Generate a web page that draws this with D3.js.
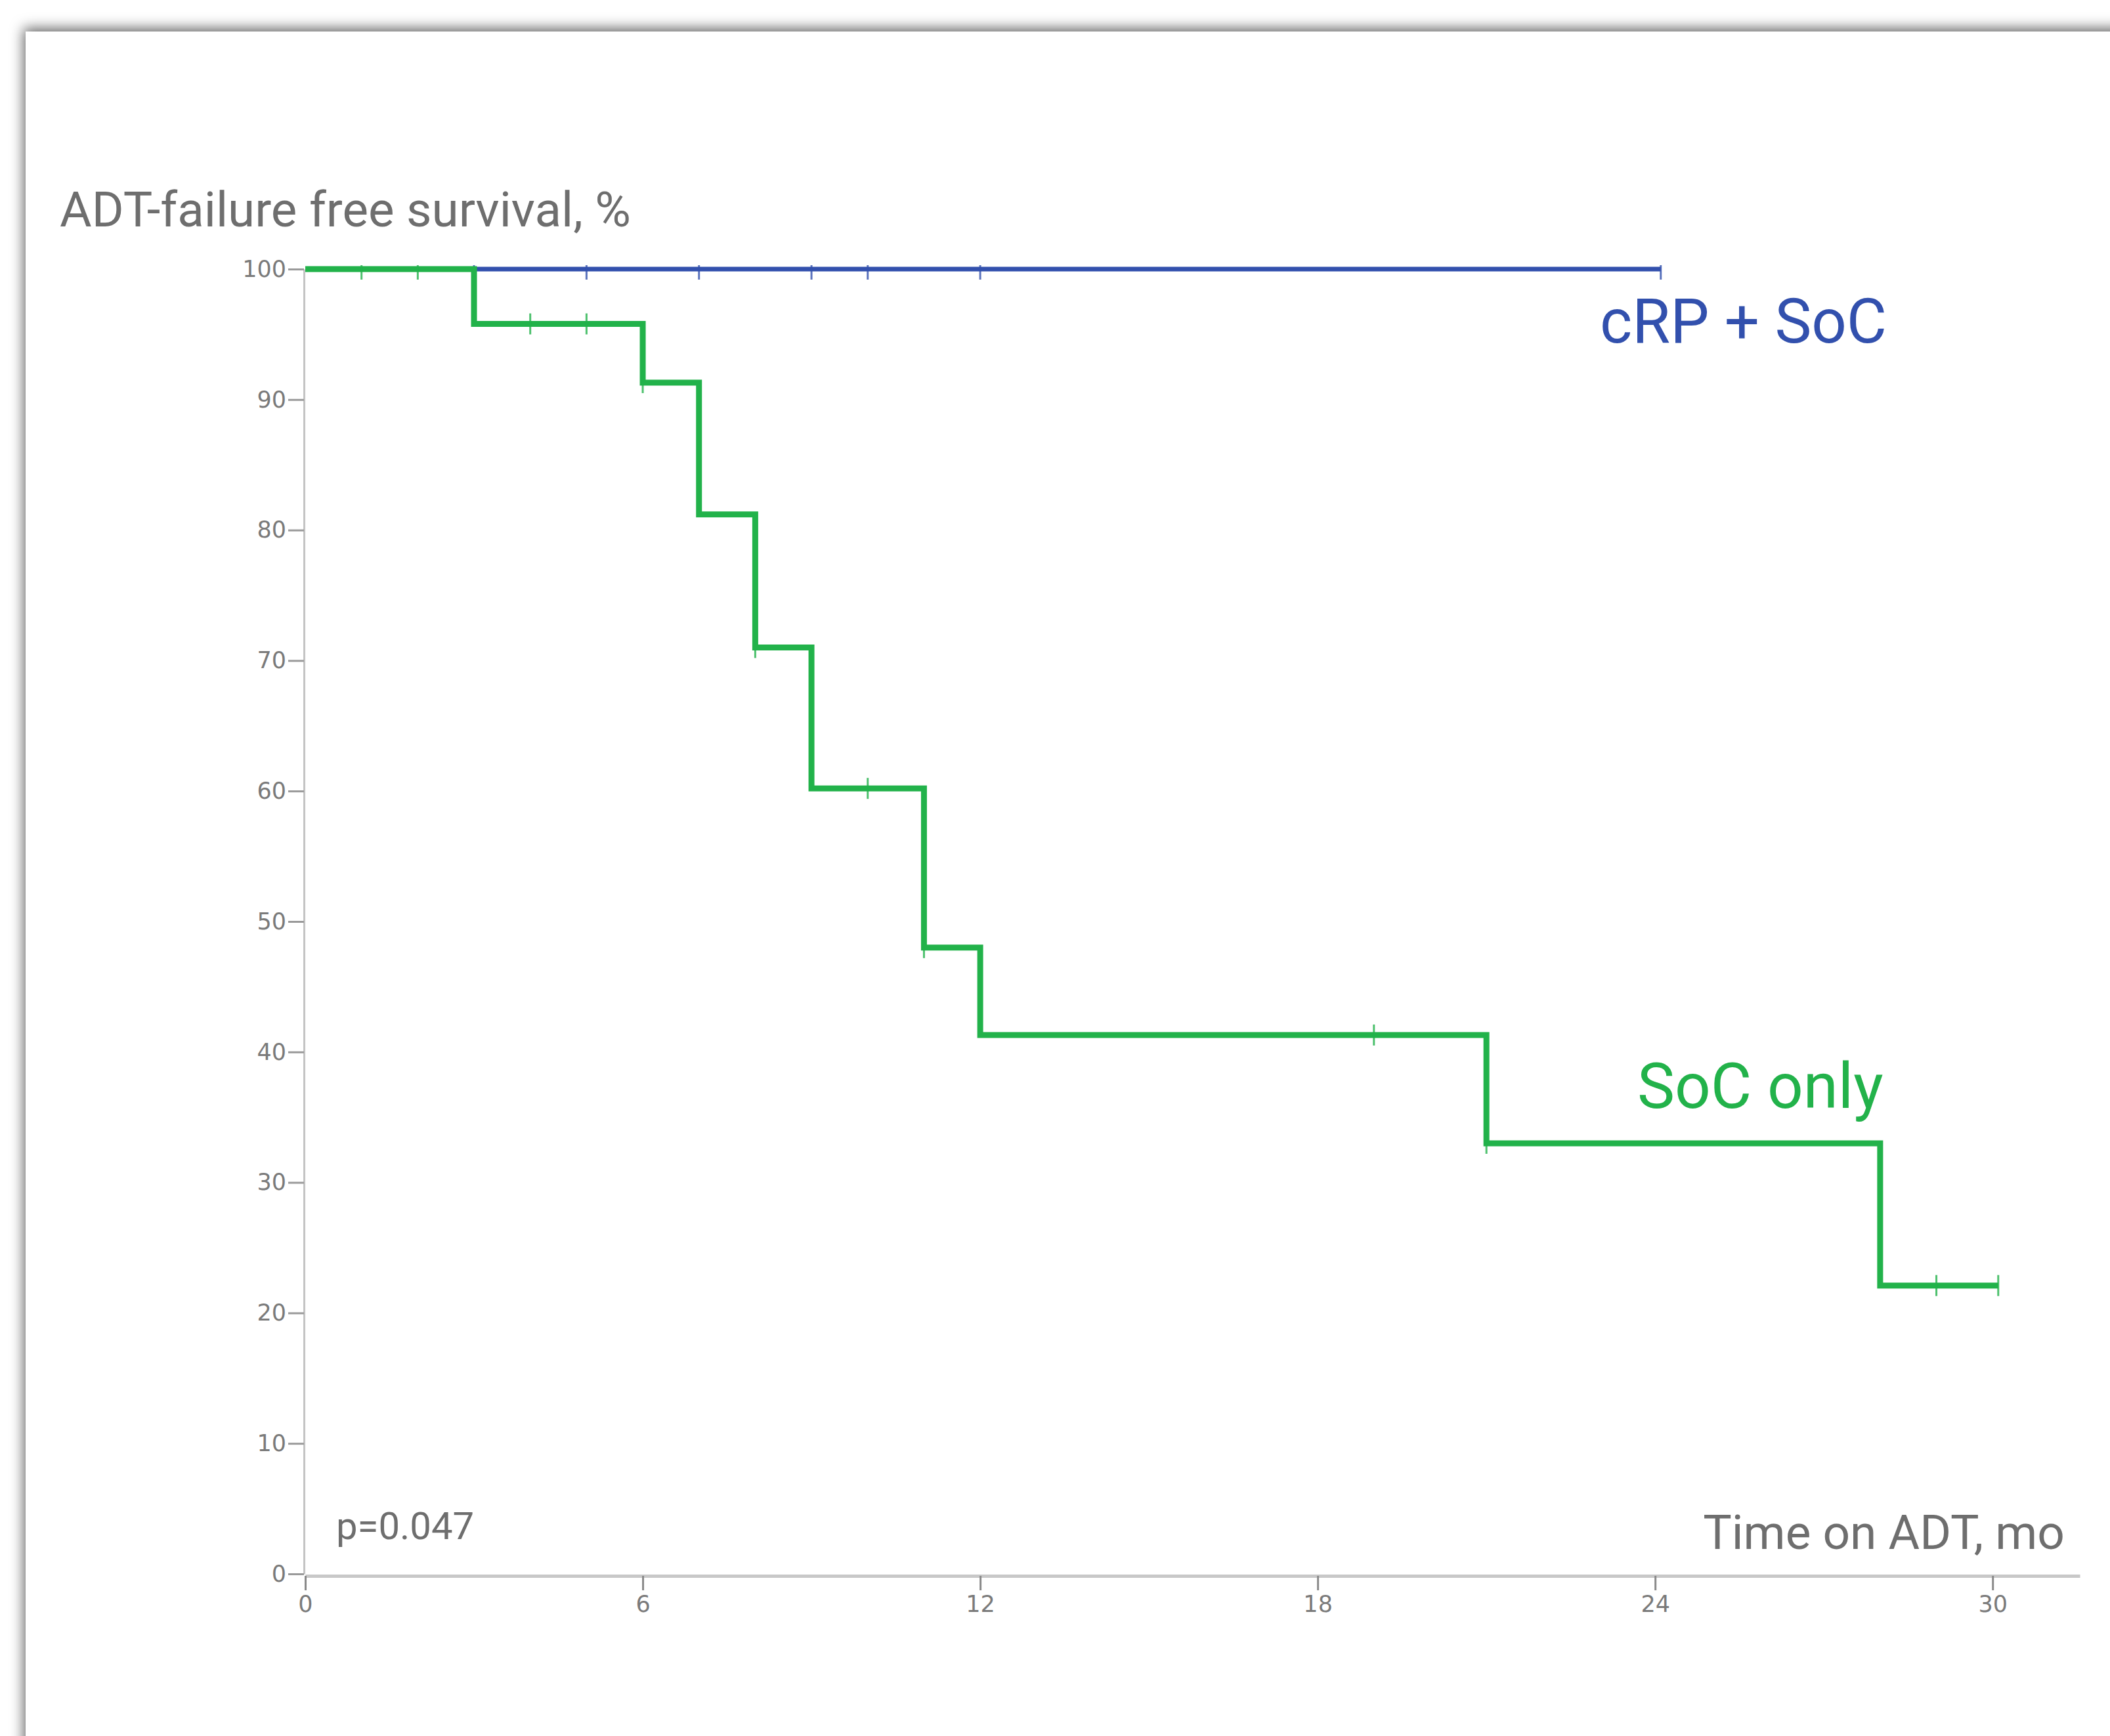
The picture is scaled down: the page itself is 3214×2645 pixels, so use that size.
<!DOCTYPE html>
<meta charset="utf-8">
<style>
  body { margin: 0; background: #fff; }
  text { font-family: Roboto, "Noto Sans", sans-serif; }
  .tick text { font-family: "DejaVu Sans", sans-serif; fill: #7a7a7a; }
</style>
<svg width="3214" height="2645"></svg>
<script src="https://d3js.org/d3.v7.min.js"></script>
<script>

// Kaplan-Meier steps (months, % surviving)
var socTimes = [0, 3, 6, 7, 8, 9, 11, 12, 21, 28, 30.1];
var socSurv  = [100, 95.8, 91.3, 81.2, 71.0, 60.2, 48.0, 41.3, 33.0, 22.1, 22.1];
var socCensor = [1, 2, 4, 5, 6, 8, 10, 11, 19, 21, 29, 30.1];

var crpTimes = [0, 24.1];
var crpSurv  = [100, 100];
var crpCensor = [3, 5, 7, 9, 10, 12, 24.1];

var xTicks = [0, 6, 12, 18, 24, 30];
var yTicks = [0, 10, 20, 30, 40, 50, 60, 70, 80, 90, 100];

var svg = d3.select("svg");

// card with soft shadow
var defs = svg.append("defs");
var f = defs.append("filter").attr("id", "shadow")
    .attr("x", "-5%").attr("y", "-5%").attr("width", "110%").attr("height", "110%");
f.append("feDropShadow")
    .attr("dx", -3).attr("dy", -5)
    .attr("stdDeviation", 10)
    .attr("flood-color", "#000")
    .attr("flood-opacity", 0.6);

svg.append("rect")
    .attr("x", 39).attr("y", 48)
    .attr("width", 3400).attr("height", 2800)
    .attr("fill", "#fff")
    .attr("filter", "url(#shadow)");

var x = d3.scaleLinear().domain([0, 31.55]).range([465, 3168]);
var y = d3.scaleLinear().domain([0, 100]).range([2398, 410]);

defs.append("clipPath").attr("id", "plot")
  .append("rect")
    .attr("x", x(0) - 20).attr("y", y(100) - 6)
    .attr("width", x(31.55) - x(0) + 40).attr("height", y(0) - y(100) + 6);

// axes
var yAxis = svg.append("g")
    .attr("transform", "translate(" + (x(0) - 2) + ",0)")
    .call(d3.axisLeft(y).tickValues(yTicks).tickSize(24).tickSizeOuter(0).tickPadding(3));
yAxis.select(".domain").attr("stroke", "#c4c4c4").attr("stroke-width", 3);
yAxis.selectAll(".tick line").attr("stroke", "#9a9a9a").attr("stroke-width", 3);
yAxis.selectAll(".tick text").attr("font-size", 35);

var xAxis = svg.append("g")
    .attr("transform", "translate(0," + (y(0) + 3) + ")")
    .call(d3.axisBottom(x).tickValues(xTicks).tickSize(22).tickSizeOuter(0).tickPadding(8));
xAxis.select(".domain").attr("stroke", "#c8c8c8").attr("stroke-width", 5);
xAxis.selectAll(".tick line").attr("stroke", "#8a8a8a").attr("stroke-width", 3);
xAxis.selectAll(".tick text").attr("font-size", 35);

// curves
var line = d3.line()
    .x(function(d) { return x(d[0]); })
    .y(function(d) { return y(d[1]); })
    .curve(d3.curveStepAfter);

function survAt(times, surv, t) {
  return surv[d3.bisectRight(times, t) - 1];
}

var plot = svg.append("g").attr("clip-path", "url(#plot)");

var groups = [
  { times: crpTimes, surv: crpSurv, censor: crpCensor, color: "#3250ad", width: 7 },
  { times: socTimes, surv: socSurv, censor: socCensor, color: "#22b24a", width: 9 }
];

groups.forEach(function(s) {
  plot.append("path")
      .datum(d3.zip(s.times, s.surv))
      .attr("fill", "none")
      .attr("stroke", s.color)
      .attr("stroke-width", s.width)
      .attr("d", line);

  plot.selectAll(null)
    .data(s.censor)
    .enter().append("line")
      .attr("x1", function(t) { return x(t); })
      .attr("x2", function(t) { return x(t); })
      .attr("y1", function(t) { return y(survAt(s.times, s.surv, t)) - 16; })
      .attr("y2", function(t) { return y(survAt(s.times, s.surv, t)) + 16; })
      .attr("stroke", s.color)
      .attr("stroke-opacity", 0.8)
      .attr("stroke-width", 3);
});

// labels
svg.append("text")
    .attr("x", 91).attr("y", 345)
    .attr("font-size", 75)
    .attr("fill", "#6e6e6e")
    .attr("textLength", 870).attr("lengthAdjust", "spacingAndGlyphs")
    .text("ADT-failure free survival, %");

svg.append("text")
    .attr("x", 3145).attr("y", 2360)
    .attr("text-anchor", "end")
    .attr("font-size", 73)
    .attr("fill", "#6e6e6e")
    .text("Time on ADT, mo");

svg.append("text")
    .attr("x", 512).attr("y", 2345)
    .attr("font-size", 58)
    .attr("fill", "#6e6e6e")
    .text("p=0.047");

svg.append("text")
    .attr("x", 2437).attr("y", 522)
    .attr("font-size", 94)
    .attr("fill", "#3250ad")
    .text("cRP + SoC");

svg.append("text")
    .attr("x", 2494).attr("y", 1688)
    .attr("font-size", 96)
    .attr("fill", "#22b24a")
    .text("SoC only");

</script>
